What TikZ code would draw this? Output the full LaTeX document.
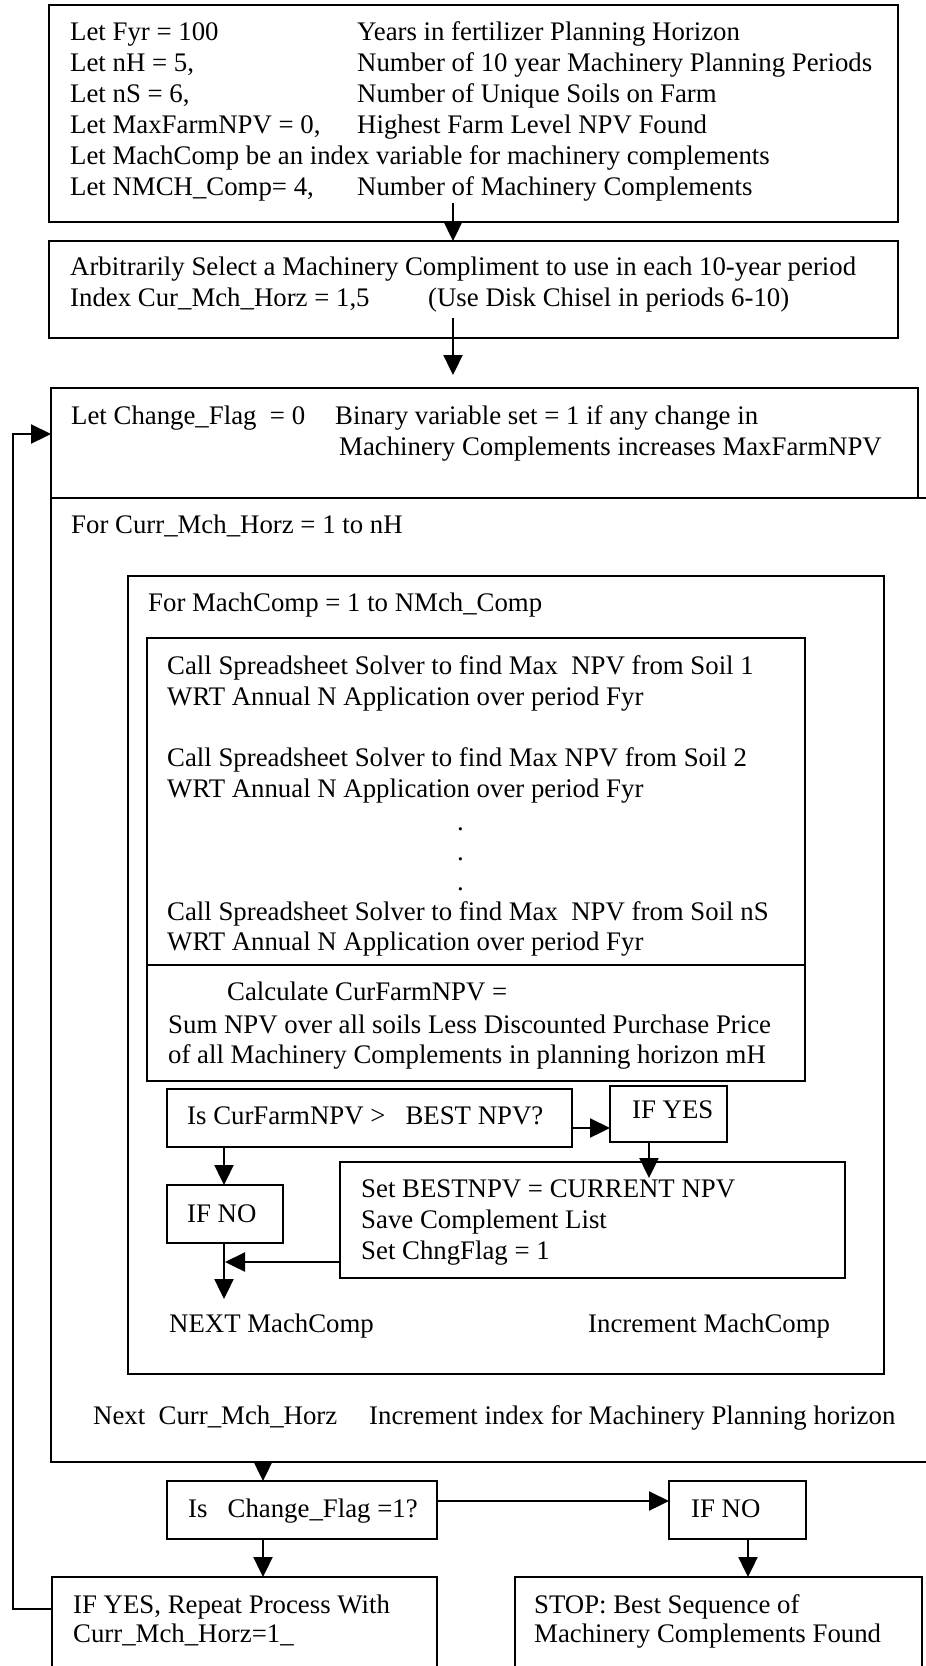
\documentclass[tikz,border=0pt]{standalone}
\usepackage{fontspec}
\setmainfont{Liberation Serif}
\usetikzlibrary{arrows.meta}
\newcommand\mkbox[5]{\node[box, minimum width={#4-#2}, minimum height={#5-#3}] (#1) at ({(#2+#4)/2},{-(#3+#5)/2}) {};}
\begin{document}
\begin{tikzpicture}[x=1pt,y=1pt,
 box/.style={draw, line width=2.5pt, inner sep=0pt, outer sep=0pt, rectangle},
 txt/.style={inner sep=0pt, anchor=base west, font=\fontsize{26.8}{31}\selectfont},
 arr/.style={line width=2.3pt, -{Triangle[length=20pt,width=19pt]}}]
\useasboundingbox (0,0) rectangle (926,-1666);
\clip (0,0) rectangle (926,-1666);
\fill[white] (0,0) rectangle (926,-1666);
% boxes
\mkbox{top}{49}{5}{898}{222}
\mkbox{arb}{49}{241}{898}{338}
\mkbox{chg}{51}{388}{918}{498}
\mkbox{outer}{51}{498}{960}{1462}
\mkbox{mach}{128}{576}{884}{1374}
\mkbox{solver}{147}{638}{805}{965}
\mkbox{calc}{147}{965}{805}{1081}
\mkbox{isnpv}{167}{1089}{572}{1147}
\mkbox{ifyes}{610}{1086}{727}{1142}
\mkbox{setb}{340}{1162}{845}{1278}
\mkbox{ifno}{167}{1185}{283}{1243}
\mkbox{ischg}{167}{1481}{437}{1539}
\mkbox{ifnob}{669}{1481}{806}{1539}
\mkbox{rep}{52}{1577}{437}{1668}
\mkbox{stop}{515}{1577}{922}{1668}
% top box texts
\node[txt] (t1a) at (70,-40) {Let Fyr = 100};
\node[txt] (t1b) at (357,-40) {Years in fertilizer Planning Horizon};
\node[txt] (t2a) at (70,-71) {Let nH = 5,};
\node[txt] (t2b) at (357,-71) {Number of 10 year Machinery Planning Periods};
\node[txt] (t3a) at (70,-102) {Let nS = 6,};
\node[txt] (t3b) at (357,-102) {Number of Unique Soils on Farm};
\node[txt] (t4a) at (70,-133) {Let MaxFarmNPV = 0,};
\node[txt] (t4b) at (357,-133) {Highest Farm Level NPV Found};
\node[txt] (t5a) at (70,-164) {Let MachComp be an index variable for machinery complements};
\node[txt] (t6a) at (70,-195) {Let NMCH\_Comp= 4,};
\node[txt] (t6b) at (357,-195) {Number of Machinery Complements};
% arb
\node[txt] (arb1) at (70,-275) {Arbitrarily Select a Machinery Compliment to use in each 10-year period};
\node[txt] (arb2) at (70,-306) {Index Cur\_Mch\_Horz = 1,5};
\node[txt] (arb3) at (428,-306) {(Use Disk Chisel in periods 6-10)};
% change
\node[txt] (chg1) at (71,-424) {Let Change\_Flag~~= 0};
\node[txt] (chg2) at (335,-424) {Binary variable set = 1 if any change in};
\node[txt] (chg3) at (339,-455) {Machinery Complements increases MaxFarmNPV};
% outer
\node[txt] (out1) at (71,-533) {For Curr\_Mch\_Horz = 1 to nH};
\node[txt] (out2) at (93,-1424) {Next~~Curr\_Mch\_Horz};
\node[txt] (out3) at (369,-1424) {Increment index for Machinery Planning horizon};
% mach
\node[txt] (m1) at (148,-611) {For MachComp = 1 to NMch\_Comp};
\node[txt] (m2) at (169,-1332) {NEXT MachComp};
\node[txt] (m3) at (588,-1332) {Increment MachComp};
% solver
\node[txt] (s1) at (167,-674) {Call Spreadsheet Solver to find Max~~NPV from Soil 1};
\node[txt] (s2) at (167,-705) {WRT Annual N Application over period Fyr};
\node[txt] (s3) at (167,-766) {Call Spreadsheet Solver to find Max NPV from Soil 2};
\node[txt] (s4) at (167,-797) {WRT Annual N Application over period Fyr};
\node[txt] (d1) at (457,-830) {.};
\node[txt] (d2) at (457,-860) {.};
\node[txt] (d3) at (457,-890) {.};
\node[txt] (s5) at (167,-920) {Call Spreadsheet Solver to find Max~~NPV from Soil nS};
\node[txt] (s6) at (167,-950) {WRT Annual N Application over period Fyr};
% calc
\node[txt] (c1t) at (227,-1000) {Calculate CurFarmNPV =};
\node[txt] (c2t) at (168,-1033) {Sum NPV over all soils Less Discounted Purchase Price};
\node[txt] (c3t) at (168,-1063) {of all Machinery Complements in planning horizon mH};
% decisions
\node[txt] (ist) at (187,-1124) {Is CurFarmNPV >~~~BEST NPV?};
\node[txt] (yest) at (632,-1118) {IF YES};
\node[txt] (sb1) at (361,-1197) {Set BESTNPV = CURRENT NPV};
\node[txt] (sb2) at (361,-1228) {Save Complement List};
\node[txt] (sb3) at (361,-1259) {Set ChngFlag = 1};
\node[txt] (not) at (187,-1222) {IF NO};
\node[txt] (ict) at (188,-1517) {Is~~~Change\_Flag =1?};
\node[txt] (nobt) at (691,-1517) {IF NO};
\node[txt] (r1) at (73,-1613) {IF YES, Repeat Process With};
\node[txt] (r2) at (73,-1642) {Curr\_Mch\_Horz=1\_};
\node[txt] (st1) at (534,-1613) {STOP: Best Sequence of};
\node[txt] (st2) at (534,-1642) {Machinery Complements Found};
% connectors
\coordinate (a1) at (453,-203);
\draw[arr] (a1) -- (a1 |- arb.north);
\coordinate (a2s) at (453,-318);
\coordinate (a2e) at (453,-375);
\draw[arr] (a2s) -- (a2e);
\coordinate (lp1) at (13,-1609);
\coordinate (lp2) at (13,-434);
\draw[arr] (rep.west |- lp1) -- (lp1) -- (lp2) -- (chg.west |- lp2);
\coordinate (k1) at (0,-1128);
\draw[arr] (isnpv.east |- k1) -- (ifyes.west |- k1);
\coordinate (k2) at (649,-1178);
\draw[arr] (ifyes.south -| k2) -- (k2);
\coordinate (k3) at (224,0);
\draw[arr] (isnpv.south -| k3) -- (ifno.north -| k3);
\coordinate (k4) at (224,-1299);
\draw[arr] (ifno.south -| k4) -- (k4);
\coordinate (k5) at (225,-1262);
\draw[arr] (setb.west |- k5) -- (k5);
\coordinate (k6) at (263,0);
\draw[arr] (outer.south -| k6) -- (ischg.north -| k6);
\coordinate (k7) at (0,-1501);
\draw[arr] (ischg.east |- k7) -- (ifnob.west |- k7);
\draw[arr] (ischg.south -| k6) -- (rep.north -| k6);
\coordinate (k8) at (748,0);
\draw[arr] (ifnob.south -| k8) -- (stop.north -| k8);
\end{tikzpicture}
\end{document}
